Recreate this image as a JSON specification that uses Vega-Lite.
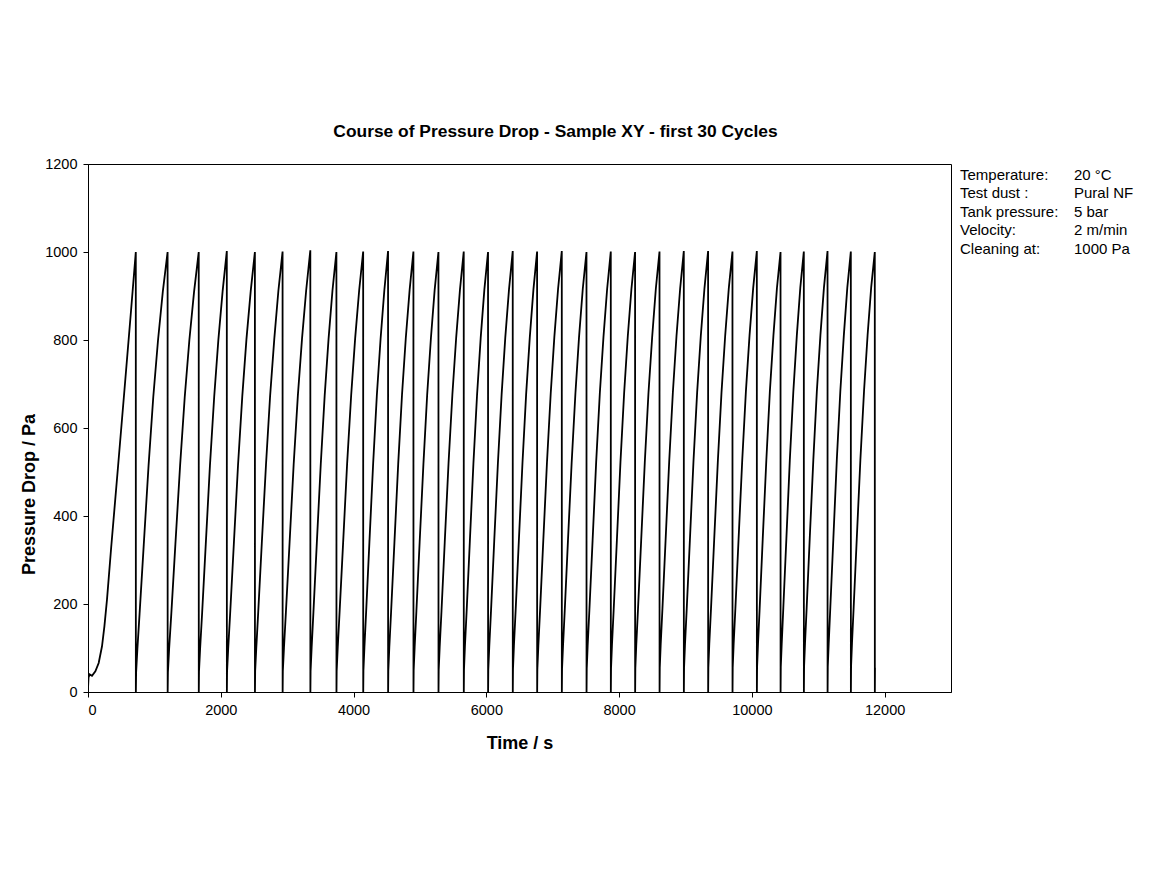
{
  "$schema": "https://vega.github.io/schema/vega-lite/v6.json",
  "width": 863,
  "height": 528,
  "autosize": {"type": "none"},
  "padding": {"left": 88, "top": 164, "right": 204, "bottom": 177},
  "background": "white",
  "config": {
    "view": {"stroke": "black", "strokeWidth": 1},
    "font": "Liberation Sans",
    "axis": {
      "grid": false,
      "domainColor": "black",
      "tickColor": "black",
      "labelColor": "black",
      "titleColor": "black",
      "labelFont": "Liberation Sans",
      "titleFont": "Liberation Sans",
      "labelFontSize": 14.5,
      "titleFontSize": 18,
      "titleFontWeight": "bold",
      "tickSize": 5,
      "labelPadding": 6
    },
    "legend": {
      "labelFont": "Liberation Sans",
      "labelFontSize": 15,
      "labelColor": "black"
    }
  },
  "title": {
    "text": "Course of Pressure Drop - Sample XY - first 30 Cycles",
    "font": "Liberation Sans",
    "fontSize": 17.4,
    "fontWeight": "bold",
    "color": "black",
    "anchor": "middle",
    "frame": "group",
    "dx": 36,
    "offset": 16
  },
  "datasets": {
    "series": [
      {"t":0,"p":8},{"t":8,"p":33},{"t":25,"p":40},{"t":60,"p":37},{"t":111,"p":47},{"t":161,"p":66},{"t":211,"p":104},{"t":247,"p":149},{"t":286,"p":210},{"t":350,"p":330},{"t":450,"p":508},{"t":550,"p":688},{"t":650,"p":870},{"t":720,"p":1000},
      {"t":721,"p":0},{"t":725,"p":45},{"t":744,"p":98},{"t":777,"p":178},{"t":840,"p":335},{"t":912,"p":514},{"t":983,"p":670},{"t":1055,"p":800},{"t":1127,"p":910},{"t":1199,"p":1000},
      {"t":1200,"p":0},{"t":1204,"p":45},{"t":1222,"p":98},{"t":1255,"p":178},{"t":1316,"p":335},{"t":1387,"p":514},{"t":1457,"p":670},{"t":1527,"p":800},{"t":1598,"p":910},{"t":1668,"p":1000},
      {"t":1669,"p":0},{"t":1672,"p":46},{"t":1689,"p":99},{"t":1719,"p":179},{"t":1774,"p":336},{"t":1837,"p":515},{"t":1901,"p":671},{"t":1964,"p":801},{"t":2028,"p":911},{"t":2091,"p":1002},
      {"t":2092,"p":0},{"t":2095,"p":46},{"t":2112,"p":99},{"t":2142,"p":180},{"t":2197,"p":337},{"t":2260,"p":516},{"t":2324,"p":672},{"t":2387,"p":802},{"t":2451,"p":911},{"t":2514,"p":1000},
      {"t":2515,"p":0},{"t":2518,"p":47},{"t":2535,"p":100},{"t":2564,"p":181},{"t":2618,"p":338},{"t":2681,"p":516},{"t":2743,"p":672},{"t":2806,"p":802},{"t":2868,"p":912},{"t":2931,"p":1001},
      {"t":2932,"p":0},{"t":2935,"p":47},{"t":2952,"p":100},{"t":2981,"p":181},{"t":3036,"p":338},{"t":3098,"p":517},{"t":3161,"p":673},{"t":3224,"p":803},{"t":3286,"p":912},{"t":3349,"p":1004},
      {"t":3350,"p":0},{"t":3353,"p":48},{"t":3369,"p":101},{"t":3396,"p":182},{"t":3447,"p":339},{"t":3506,"p":517},{"t":3565,"p":673},{"t":3624,"p":803},{"t":3683,"p":913},{"t":3742,"p":1000},
      {"t":3743,"p":0},{"t":3746,"p":48},{"t":3762,"p":101},{"t":3790,"p":182},{"t":3843,"p":339},{"t":3903,"p":518},{"t":3964,"p":674},{"t":4024,"p":803},{"t":4085,"p":913},{"t":4145,"p":1001},
      {"t":4146,"p":0},{"t":4149,"p":49},{"t":4164,"p":102},{"t":4190,"p":183},{"t":4239,"p":340},{"t":4295,"p":518},{"t":4351,"p":674},{"t":4408,"p":804},{"t":4464,"p":913},{"t":4520,"p":1002},
      {"t":4521,"p":0},{"t":4524,"p":49},{"t":4539,"p":102},{"t":4566,"p":183},{"t":4616,"p":340},{"t":4673,"p":519},{"t":4730,"p":675},{"t":4787,"p":804},{"t":4845,"p":914},{"t":4902,"p":1001},
      {"t":4903,"p":0},{"t":4906,"p":50},{"t":4921,"p":103},{"t":4947,"p":184},{"t":4996,"p":341},{"t":5053,"p":519},{"t":5109,"p":675},{"t":5166,"p":805},{"t":5222,"p":914},{"t":5279,"p":1000},
      {"t":5280,"p":0},{"t":5283,"p":50},{"t":5298,"p":103},{"t":5325,"p":184},{"t":5374,"p":341},{"t":5431,"p":520},{"t":5489,"p":676},{"t":5546,"p":805},{"t":5603,"p":914},{"t":5660,"p":1001},
      {"t":5661,"p":0},{"t":5664,"p":51},{"t":5678,"p":104},{"t":5704,"p":185},{"t":5752,"p":342},{"t":5806,"p":520},{"t":5861,"p":676},{"t":5916,"p":806},{"t":5971,"p":915},{"t":6026,"p":1000},
      {"t":6027,"p":0},{"t":6030,"p":51},{"t":6045,"p":104},{"t":6071,"p":185},{"t":6119,"p":342},{"t":6175,"p":521},{"t":6231,"p":677},{"t":6286,"p":806},{"t":6342,"p":915},{"t":6398,"p":1002},
      {"t":6399,"p":0},{"t":6402,"p":52},{"t":6416,"p":105},{"t":6442,"p":186},{"t":6490,"p":343},{"t":6545,"p":521},{"t":6600,"p":677},{"t":6655,"p":806},{"t":6710,"p":915},{"t":6765,"p":1001},
      {"t":6766,"p":0},{"t":6769,"p":52},{"t":6784,"p":105},{"t":6810,"p":186},{"t":6858,"p":343},{"t":6914,"p":522},{"t":6970,"p":678},{"t":7025,"p":807},{"t":7081,"p":916},{"t":7137,"p":1002},
      {"t":7138,"p":0},{"t":7141,"p":53},{"t":7156,"p":106},{"t":7182,"p":187},{"t":7230,"p":344},{"t":7286,"p":522},{"t":7342,"p":678},{"t":7397,"p":807},{"t":7453,"p":916},{"t":7509,"p":1000},
      {"t":7510,"p":0},{"t":7513,"p":53},{"t":7527,"p":106},{"t":7553,"p":187},{"t":7601,"p":344},{"t":7655,"p":523},{"t":7710,"p":679},{"t":7765,"p":807},{"t":7820,"p":916},{"t":7875,"p":1001},
      {"t":7876,"p":0},{"t":7879,"p":54},{"t":7893,"p":107},{"t":7919,"p":188},{"t":7967,"p":345},{"t":8021,"p":523},{"t":8076,"p":679},{"t":8131,"p":808},{"t":8186,"p":916},{"t":8241,"p":1000},
      {"t":8242,"p":0},{"t":8245,"p":54},{"t":8259,"p":107},{"t":8285,"p":188},{"t":8333,"p":345},{"t":8388,"p":524},{"t":8443,"p":680},{"t":8499,"p":808},{"t":8554,"p":917},{"t":8609,"p":1001},
      {"t":8610,"p":0},{"t":8613,"p":55},{"t":8627,"p":108},{"t":8653,"p":189},{"t":8701,"p":346},{"t":8755,"p":524},{"t":8810,"p":680},{"t":8865,"p":809},{"t":8920,"p":917},{"t":8975,"p":1002},
      {"t":8976,"p":0},{"t":8979,"p":55},{"t":8993,"p":108},{"t":9019,"p":189},{"t":9067,"p":346},{"t":9121,"p":525},{"t":9176,"p":681},{"t":9231,"p":809},{"t":9286,"p":917},{"t":9341,"p":1002},
      {"t":9342,"p":0},{"t":9345,"p":56},{"t":9359,"p":109},{"t":9385,"p":190},{"t":9433,"p":347},{"t":9488,"p":525},{"t":9543,"p":681},{"t":9598,"p":809},{"t":9653,"p":918},{"t":9708,"p":1001},
      {"t":9709,"p":0},{"t":9712,"p":56},{"t":9726,"p":109},{"t":9752,"p":190},{"t":9800,"p":347},{"t":9855,"p":526},{"t":9910,"p":682},{"t":9965,"p":810},{"t":10020,"p":918},{"t":10075,"p":1002},
      {"t":10076,"p":0},{"t":10079,"p":57},{"t":10093,"p":110},{"t":10118,"p":191},{"t":10164,"p":348},{"t":10218,"p":526},{"t":10271,"p":682},{"t":10325,"p":810},{"t":10378,"p":918},{"t":10432,"p":1000},
      {"t":10433,"p":0},{"t":10436,"p":57},{"t":10450,"p":110},{"t":10474,"p":191},{"t":10520,"p":348},{"t":10572,"p":527},{"t":10625,"p":683},{"t":10678,"p":811},{"t":10730,"p":919},{"t":10783,"p":1001},
      {"t":10784,"p":0},{"t":10787,"p":58},{"t":10801,"p":111},{"t":10826,"p":192},{"t":10872,"p":349},{"t":10926,"p":527},{"t":10979,"p":683},{"t":11033,"p":811},{"t":11086,"p":919},{"t":11140,"p":1002},
      {"t":11141,"p":0},{"t":11144,"p":58},{"t":11158,"p":111},{"t":11182,"p":192},{"t":11228,"p":349},{"t":11280,"p":528},{"t":11333,"p":684},{"t":11386,"p":811},{"t":11438,"p":919},{"t":11491,"p":1001},
      {"t":11492,"p":0},{"t":11495,"p":59},{"t":11509,"p":112},{"t":11534,"p":193},{"t":11581,"p":350},{"t":11635,"p":528},{"t":11690,"p":684},{"t":11744,"p":812},{"t":11798,"p":920},{"t":11852,"p":1000},
      {"t":11853,"p":0},{"t":11855,"p":55}
    ],
    "info": [
      {"item": "Temperature:"},
      {"item": "Test dust :"},
      {"item": "Tank pressure:"},
      {"item": "Velocity:"},
      {"item": "Cleaning at:"},
      {"item": "20 °C"},
      {"item": "Pural NF"},
      {"item": "5 bar"},
      {"item": "2 m/min"},
      {"item": "1000 Pa"}
    ]
  },
  "layer": [
    {
      "data": {"name": "series"},
      "mark": {"type": "line", "color": "black", "strokeWidth": 1.8, "clip": true},
      "encoding": {
        "x": {
          "field": "t",
          "type": "quantitative",
          "scale": {"domain": [0, 13000], "nice": false, "zero": true},
          "axis": {
            "title": "Time / s",
            "values": [0, 2000, 4000, 6000, 8000, 10000, 12000],
            "format": "d",
            "titlePadding": 18
          }
        },
        "y": {
          "field": "p",
          "type": "quantitative",
          "scale": {"domain": [0, 1200], "nice": false},
          "axis": {
            "title": "Pressure Drop / Pa",
            "values": [0, 200, 400, 600, 800, 1000, 1200],
            "format": "d",
            "titlePadding": 6,
            "titleY": 330
          }
        }
      }
    },
    {
      "data": {"name": "info"},
      "mark": {"type": "point", "opacity": 0},
      "encoding": {
        "color": {
          "field": "item",
          "type": "nominal",
          "scale": {
            "domain": ["Temperature:", "Test dust :", "Tank pressure:", "Velocity:", "Cleaning at:", "20 °C", "Pural NF", "5 bar", "2 m/min", "1000 Pa"],
            "range": ["black", "black", "black", "black", "black", "black", "black", "black", "black", "black"]
          },
          "legend": {
            "title": null,
            "orient": "right",
            "offset": -9,
            "padding": 3,
            "columns": 2,
            "columnPadding": -10,
            "rowPadding": 2.6,
            "gridAlign": "each",
            "symbolSize": 0,
            "symbolOpacity": 0,
            "symbolStrokeWidth": 0,
            "labelOffset": 0,
            "labelLimit": 300
          }
        }
      }
    }
  ]
}
